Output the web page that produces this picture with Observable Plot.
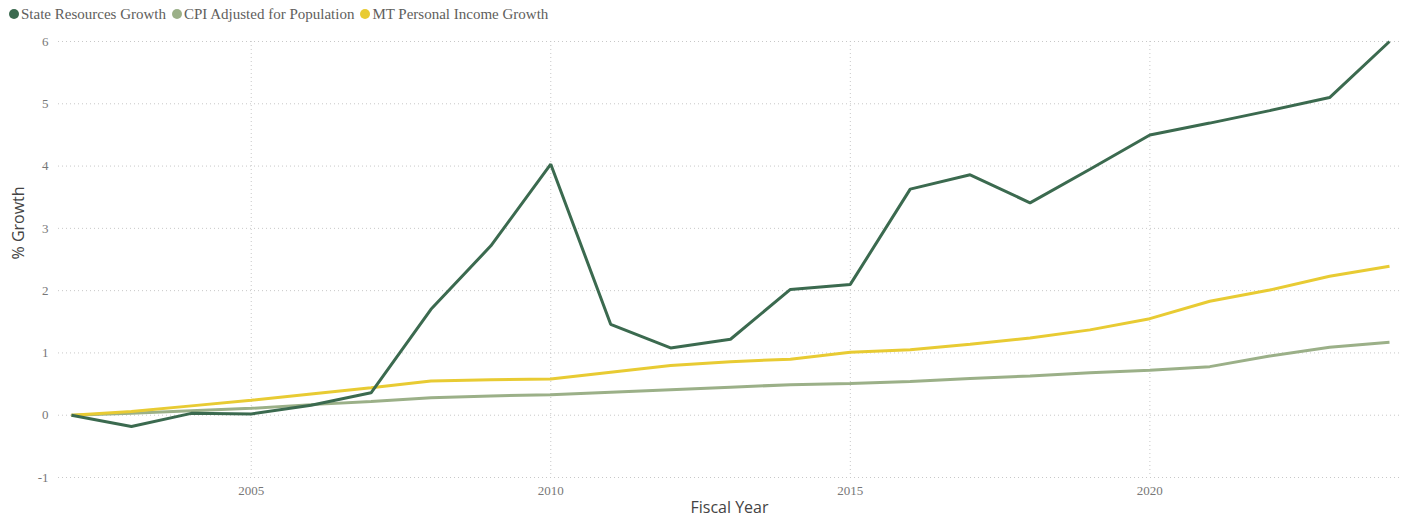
<!DOCTYPE html>
<html>
<head>
<meta charset="utf-8">
<script src="https://cdn.jsdelivr.net/npm/d3@7"></script>
<script src="https://cdn.jsdelivr.net/npm/@observablehq/plot@0.6"></script>
<style>
  html, body { margin: 0; padding: 0; background: #fff; }
  #legend { height: 28px; display: flex; align-items: center; padding-left: 9px;
    font-family: "Liberation Serif", serif; font-size: 15px; color: #605e5c; white-space: nowrap; }
  #legend .item { display: flex; align-items: center; margin-right: 6px; }
  #legend .dot { width: 10px; height: 10px; border-radius: 50%; margin-right: 2px; }
</style>
</head>
<body>
<div id="legend"></div>
<div id="chart"></div>
<script>
const years = [2002, 2003, 2004, 2005, 2006, 2007, 2008, 2009, 2010, 2011, 2012, 2013, 2014, 2015, 2016, 2017, 2018, 2019, 2020, 2021, 2022, 2023, 2024];
const stateResources = [0, -0.18, 0.03, 0.02, 0.16, 0.36, 1.70, 2.72, 4.03, 1.46, 1.08, 1.22, 2.02, 2.10, 3.63, 3.86, 3.41, 3.95, 4.50, 4.69, 4.89, 5.10, 6.00];
const cpiAdjusted = [0, 0.03, 0.07, 0.11, 0.17, 0.22, 0.28, 0.31, 0.33, 0.37, 0.41, 0.45, 0.49, 0.51, 0.54, 0.59, 0.63, 0.68, 0.72, 0.78, 0.95, 1.09, 1.17];
const personalIncome = [0, 0.06, 0.15, 0.24, 0.34, 0.44, 0.55, 0.57, 0.58, 0.69, 0.80, 0.86, 0.90, 1.01, 1.05, 1.14, 1.24, 1.37, 1.55, 1.83, 2.01, 2.23, 2.39];
const seriesNames = ["State Resources Growth", "CPI Adjusted for Population", "MT Personal Income Growth"];
const seriesColors = ["#3b6a4f", "#9bb088", "#e8cb33"];
const xTicks = [2005, 2010, 2015, 2020];
const yTicks = [-1, 0, 1, 2, 3, 4, 5, 6];

const seriesValues = [stateResources, cpiAdjusted, personalIncome];
const rows = [];
seriesNames.forEach((name, s) => years.forEach((yr, i) => rows.push({series: name, year: yr, value: seriesValues[s][i]})));

// legend
const legend = document.getElementById("legend");
seriesNames.forEach((n, i) => {
  const it = document.createElement("span"); it.className = "item";
  const d = document.createElement("span"); d.className = "dot"; d.style.background = seriesColors[i];
  const t = document.createElement("span"); t.textContent = n;
  it.appendChild(d); it.appendChild(t); legend.appendChild(it);
});

const drawOrder = [seriesNames[1], seriesNames[2], seriesNames[0]];
const plainFormat = d => String(d);

const chart = Plot.plot({
  width: 1409,
  height: 496,
  marginTop: 13,
  marginBottom: 47,
  marginLeft: 58,
  marginRight: 9,
  insetLeft: 13,
  insetRight: 11,
  style: {fontFamily: "'Liberation Serif', serif", fontSize: "13px", color: "#777", background: "#fff"},
  x: {domain: [2002, 2024], label: null},
  y: {domain: [-1, 6], label: null},
  color: {domain: seriesNames, range: seriesColors},
  marks: [
    Plot.gridY(yTicks, {stroke: "#c8c8c8", strokeOpacity: 1, strokeDasharray: "1,3"}),
    Plot.gridX(xTicks, {stroke: "#c8c8c8", strokeOpacity: 1, strokeDasharray: "1,3"}),
    Plot.axisY(yTicks, {tickSize: 0, tickPadding: 10, tickFormat: plainFormat, label: null, fill: "#777"}),
    Plot.axisX(xTicks, {tickSize: 0, tickPadding: 8, tickFormat: plainFormat, label: null, fill: "#777"}),
    ...drawOrder.map(name => Plot.line(rows.filter(r => r.series === name), {
      x: "year", y: "value", stroke: "series", strokeWidth: 3, strokeLinejoin: "miter", strokeLinecap: "butt"
    })),
    Plot.text(["% Growth"], {frameAnchor: "left", dx: -40, rotate: -90, fontSize: 16, fill: "#444", fontFamily: "'Open Sans', sans-serif"}),
    Plot.text(["Fiscal Year"], {frameAnchor: "bottom", dy: 35, fontSize: 16, fill: "#444", fontFamily: "'Open Sans', sans-serif"})
  ]
});
document.getElementById("chart").appendChild(chart);
</script>
</body>
</html>
